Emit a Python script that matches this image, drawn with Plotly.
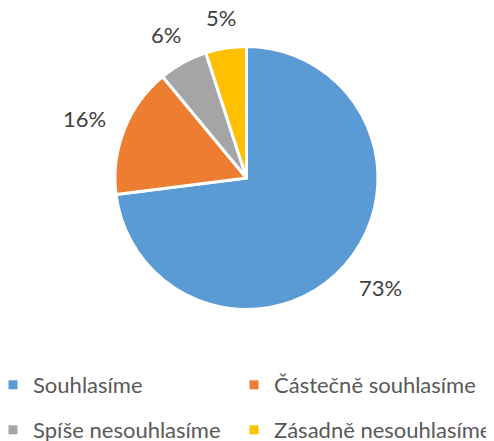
import math
import plotly.graph_objects as go

labels = ["Souhlasíme", "Částečně souhlasíme", "Spíše nesouhlasíme", "Zásadně nesouhlasíme"]
values = [73, 16, 6, 5]
colors = ["#5B9BD5", "#ED7D31", "#A5A5A5", "#FFC000"]
pct_text = ["73%", "16%", "6%", "5%"]

W, H = 494, 441
OFF = 8  # page body margin offset
cx, cy, r = 246.5 - OFF, 178 - OFF, 131.5
FONT = "Lato"

fig = go.Figure(go.Pie(
    labels=labels, values=values, sort=False, direction="clockwise", rotation=0,
    marker=dict(colors=colors, line=dict(color="white", width=3)),
    textinfo="none", showlegend=False,
    domain=dict(x=[(cx - r) / W, (cx + r) / W], y=[1 - (cy + r) / H, 1 - (cy - r) / H]),
    hoverinfo="label+percent",
))

# outside data labels anchored at each slice's mid-angle, box pushed outward
total = sum(values)
cum = 0
for v, t in zip(values, pct_text):
    mid = (cum + v / 2) / total * 2 * math.pi
    cum += v
    ux, uy = math.sin(mid), -math.cos(mid)  # screen direction (y down)
    hw, hh = 6.8 * len(t), 10
    m = max(abs(ux), abs(uy))
    ax, ay = cx + ux * (r + 20.5), cy + uy * (r + 20.5)
    px, py = ax + hw * ux / m, ay + hh * uy / m
    fig.add_annotation(x=px / W, y=1 - py / H, xref="paper", yref="paper",
                       text=t, showarrow=False, xanchor="center", yanchor="middle",
                       font=dict(family=FONT, size=22, color="#404040"))

# legend entries: one legend per entry for Excel-like 2x2 layout
legend_pos = [(33, 385), (274, 385), (33, 430), (274, 430)]
layout_legends = {}
for i, (lab, col) in enumerate(zip(labels, colors)):
    name = "legend" if i == 0 else f"legend{i + 1}"
    fig.add_trace(go.Scatter(x=[None], y=[None], mode="markers", name=lab,
                             marker=dict(symbol="square", size=9, color=col),
                             legend=name, showlegend=True, hoverinfo="skip"))
    tx, ty = legend_pos[i]
    layout_legends[name] = dict(
        x=(tx - OFF - 40) / W, y=1 - (ty - OFF) / H, xanchor="left", yanchor="middle",
        bgcolor="rgba(0,0,0,0)", itemwidth=30,
        font=dict(family=FONT, size=22, color="#595959"),
    )

fig.update_layout(
    width=W, height=H, margin=dict(l=0, r=0, t=0, b=0, autoexpand=False),
    paper_bgcolor="white", plot_bgcolor="white",
    font=dict(family=FONT, color="#595959"),
    xaxis=dict(visible=False), yaxis=dict(visible=False),
    **layout_legends,
)
fig.write_html("out.html")
